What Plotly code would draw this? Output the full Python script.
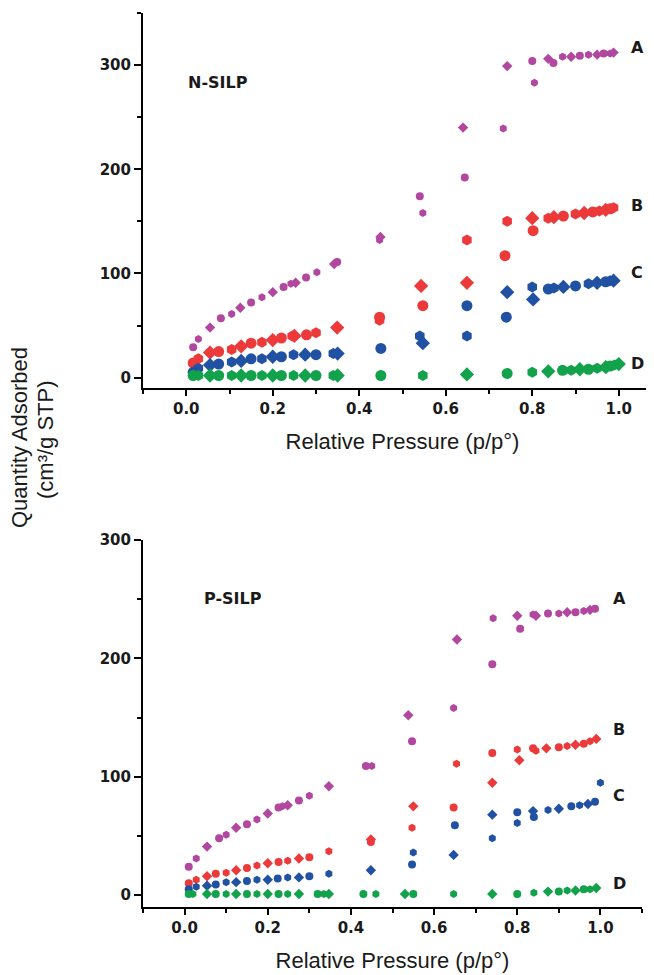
import plotly.graph_objects as go

# ---------------- data: N-SILP (top panel) ----------------
n_a_x = [0.016,0.028,0.055,0.08,0.105,0.125,0.15,0.175,0.2,0.225,0.242,0.253,0.277,0.302,0.342,0.349,0.447,0.449,0.54,0.547,0.64,0.644,0.733,0.742,0.8,0.805,0.837,0.849,0.87,0.89,0.91,0.93,0.95,0.965,0.98,0.988]
n_a_y = [29,37,48,57,61,67,72,77,82,87,90,91,96,101,109,111,132,135,174,158,240,192,239,299,304,283,306,302,308,308,309,310,310,311,311,312]
n_b_x = [0.016,0.028,0.055,0.075,0.105,0.127,0.15,0.175,0.2,0.22,0.245,0.25,0.278,0.3,0.349,0.447,0.447,0.543,0.547,0.649,0.649,0.737,0.742,0.8,0.802,0.837,0.85,0.872,0.9,0.92,0.94,0.955,0.97,0.98,0.988]
n_b_y = [14,18,24,25,27,30,33,34,36,38,40,40,41,43,48,58,55,88,69,132,91,117,150,153,141,153,154,155,157,158,159,160,161,162,163]
n_c_x = [0.016,0.028,0.055,0.075,0.105,0.127,0.15,0.175,0.2,0.22,0.248,0.275,0.3,0.34,0.35,0.45,0.54,0.547,0.649,0.649,0.742,0.74,0.8,0.802,0.837,0.85,0.872,0.9,0.93,0.95,0.97,0.98,0.988]
n_c_y = [5,9,12,13,15,16,18,18,20,20,22,22,22,23,23,28,40,33,69,40,82,58,87,75,85,86,87,88,90,91,92,93,93]
n_d_x = [0.016,0.028,0.055,0.075,0.105,0.127,0.15,0.175,0.2,0.22,0.248,0.275,0.3,0.34,0.35,0.45,0.547,0.649,0.742,0.8,0.837,0.87,0.89,0.91,0.93,0.95,0.97,0.98,0.99,1.0]
n_d_y = [2,2,2,2,2,2,2,2,2,2,2,2,2,2,2,2,2,3,4,5,6,7,7,8,8,9,10,11,12,13]

# ---------------- data: P-SILP (bottom panel) ----------------
p_a_x = [0.01,0.028,0.054,0.083,0.1,0.124,0.15,0.174,0.2,0.226,0.235,0.248,0.275,0.3,0.347,0.436,0.45,0.538,0.547,0.647,0.655,0.74,0.742,0.8,0.807,0.838,0.845,0.874,0.9,0.92,0.94,0.96,0.975,0.987]
p_a_y = [24,31,41,48,51,57,60,64,69,74,75,76,80,84,92,109,109,152,130,158,216,195,234,236,225,237,236,238,238,239,239,240,241,242]
p_b_x = [0.01,0.028,0.054,0.075,0.1,0.124,0.15,0.174,0.2,0.226,0.248,0.275,0.3,0.347,0.448,0.448,0.547,0.55,0.647,0.654,0.74,0.74,0.8,0.805,0.838,0.845,0.87,0.9,0.92,0.94,0.96,0.975,0.99]
p_b_y = [10,13,16,18,19,21,23,25,27,28,29,31,32,37,47,45,57,75,74,111,95,120,123,114,124,122,124,125,126,127,128,130,132]
p_c_x = [0.01,0.028,0.054,0.075,0.1,0.124,0.15,0.174,0.2,0.224,0.248,0.275,0.3,0.347,0.448,0.547,0.55,0.647,0.65,0.74,0.74,0.8,0.8,0.838,0.84,0.874,0.9,0.93,0.95,0.97,0.987,1.0]
p_c_y = [5,7,8,9,11,11,12,13,13,14,15,15,16,18,21,26,36,34,59,48,68,70,61,71,66,72,73,75,76,77,79,95]
p_d_x = [0.01,0.02,0.054,0.075,0.1,0.124,0.15,0.174,0.2,0.226,0.248,0.275,0.32,0.335,0.347,0.43,0.46,0.53,0.55,0.647,0.74,0.8,0.84,0.874,0.9,0.92,0.94,0.96,0.975,0.99]
p_d_y = [1,1,1,1,1,1,1,1,1,1,1,1,1,1,1,1,1,1,1,1,1,1,2,3,3,4,4,5,5,6]

series_labels = ["A", "B", "C", "D"]
panel_names = ["N-SILP", "P-SILP"]
x_ticks = [0.0, 0.2, 0.4, 0.6, 0.8, 1.0]
x_title = "Relative Pressure (p/p°)"
y_title_1 = "Quantity Adsorbed"
y_title_2 = "(cm³/g STP)"

colors = ["#b2479f", "#ec3a3a", "#2151a3", "#12a24c"]
sym_cycle = ["circle", "hexagon", "diamond"]

def syms(n):
    return [sym_cycle[i % 3] for i in range(n)]

fig = go.Figure()

top = [(n_a_x, n_a_y), (n_b_x, n_b_y), (n_c_x, n_c_y), (n_d_x, n_d_y)]
bot = [(p_a_x, p_a_y), (p_b_x, p_b_y), (p_c_x, p_c_y), (p_d_x, p_d_y)]
top_sizes = [8, 11, 11, 11]
bot_sizes = [8, 8, 8, 8]

for i, (xs, ys) in enumerate(top):
    fig.add_trace(go.Scatter(x=xs, y=ys, mode="markers", xaxis="x", yaxis="y",
                             marker=dict(color=colors[i], size=top_sizes[i], symbol=syms(len(xs)), line=dict(width=0)),
                             showlegend=False))
for i, (xs, ys) in enumerate(bot):
    fig.add_trace(go.Scatter(x=xs, y=ys, mode="markers", xaxis="x2", yaxis="y2",
                             marker=dict(color=colors[i], size=bot_sizes[i], symbol=syms(len(xs)), line=dict(width=0)),
                             showlegend=False))

W, H = 654, 975
OFF = 8  # page body margin offset in the browser


def px(x):
    return (x - OFF) / W


def py(y):
    return 1 - (y - OFF) / H


tickfont = dict(family="DejaVu Sans", size=15, color="#1a1a1a", weight="bold")
titlefont = dict(family="Liberation Sans", size=22, color="#1a1a1a")

def xax(domain, anchor):
    return dict(domain=domain, anchor=anchor, range=[-0.1, 1.1], tickvals=x_ticks, automargin=False,
                ticktext=[f"{v:.1f}" for v in x_ticks], ticks="outside", ticklen=6, tickwidth=1.5,
                tickcolor="black", showline=True, linecolor="black", linewidth=2, showgrid=False,
                zeroline=False, tickfont=tickfont,
                minor=dict(dtick=0.1, tick0=0, ticks="outside", ticklen=4, tickwidth=1.5, tickcolor="black"),
                title=dict(text=x_title, font=titlefont, standoff=17))

def yax(domain, anchor, rng):
    return dict(domain=domain, anchor=anchor, range=rng, tickvals=[0, 100, 200, 300], automargin=False,
                ticks="outside", ticklen=7, tickwidth=1.5, tickcolor="black", showline=True,
                linecolor="black", linewidth=2, showgrid=False, zeroline=False, tickfont=tickfont,
                minor=dict(dtick=50, tick0=0, ticks="outside", ticklen=4, tickwidth=1.5, tickcolor="black"))

fig.update_layout(
    width=W, height=H, margin=dict(l=0, r=0, t=0, b=0, autoexpand=False),
    paper_bgcolor="white", plot_bgcolor="white", showlegend=False,
    xaxis=xax([px(143), 1.0], "y"),
    yaxis=yax([py(388), py(13)], "x", [-10, 350]),
    xaxis2=xax([px(143), px(642)], "y2"),
    yaxis2=yax([py(907), py(540)], "x2", [-10, 300]),
)

annots = []
annots.append(dict(text=panel_names[0], x=218, y=82))
annots.append(dict(text=panel_names[1], x=233, y=598))
top_lab_y = [48, 205, 272, 363]
bot_lab_y = [598, 729, 795, 883]
for lab, yy in zip(series_labels, top_lab_y):
    annots.append(dict(text=lab, x=637, y=yy))
for lab, yy in zip(series_labels, bot_lab_y):
    annots.append(dict(text=lab, x=619, y=yy))
final = []
for a in annots:
    final.append(dict(text=a["text"], x=px(a["x"]), y=py(a["y"]), xref="paper", yref="paper",
                      showarrow=False, xanchor="center", yanchor="middle",
                      font=dict(family="DejaVu Sans", size=16, color="#1a1a1a", weight="bold")))
final.append(dict(text=y_title_1, x=px(19), y=py(438), xref="paper", yref="paper", showarrow=False,
                  textangle=-90, xanchor="center", yanchor="middle", font=titlefont))
final.append(dict(text=y_title_2, x=px(45), y=py(440), xref="paper", yref="paper", showarrow=False,
                  textangle=-90, xanchor="center", yanchor="middle", font=titlefont))
fig.update_layout(annotations=final)

fig.write_html("out.html")
